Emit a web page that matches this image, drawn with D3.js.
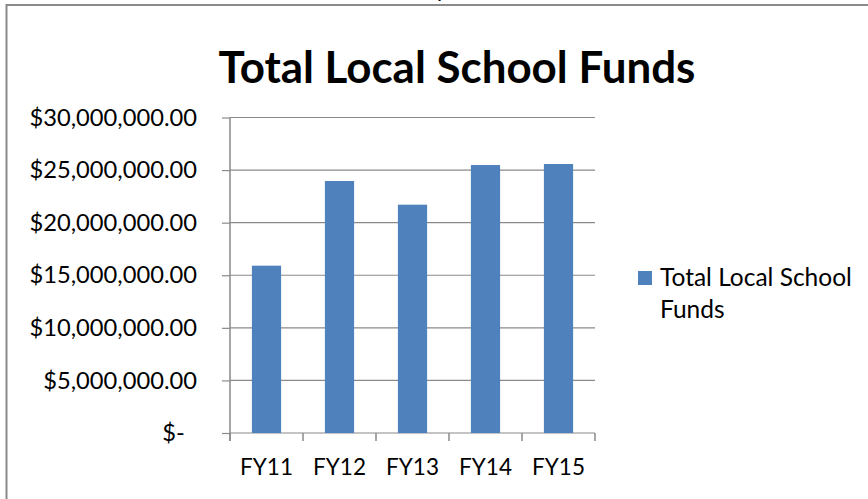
<!DOCTYPE html>
<html lang="en">
    <head>
        <meta charset="utf-8">
        <title>Total Local School Funds</title>
        <script type="text/javascript" src="https://cdn.jsdelivr.net/npm/d3@7"></script>
        <style>
            body { margin: 0; background: white; }
            text { font-family: Lato, "Open Sans", sans-serif; fill: #000; }
        </style>
    </head>
    <body>
        <svg width="868" height="499"></svg>
        <script type="text/javascript">
            // data
            var categories = ["FY11", "FY12", "FY13", "FY14", "FY15"];
            var funds = [15910000, 23960000, 21710000, 25480000, 25580000];
            var tickValues = [0, 5000000, 10000000, 15000000, 20000000, 25000000, 30000000];
            var tickLabels = ["$-  ", "$5,000,000.00", "$10,000,000.00", "$15,000,000.00",
                              "$20,000,000.00", "$25,000,000.00", "$30,000,000.00"];
            var seriesName = ["Total Local School", "Funds"];
            var title = "Total Local School Funds";

            var svg = d3.select("svg");
            var grey = "#8a8a8a";

            // frame of the chart (runs past the right and bottom edges)
            svg.append("rect")
                .attr("x", 6.5).attr("y", 5)
                .attr("width", 900).attr("height", 600)
                .attr("fill", "white")
                .attr("stroke", grey)
                .attr("stroke-width", 2);

            // cut-off text above the frame
            svg.append("text")
                .attr("x", 437).attr("y", -3)
                .attr("font-size", 22)
                .text("p");

            var scaleX = d3.scaleBand()
                .domain(categories)
                .range([230, 595])
                .paddingInner(0.6)
                .paddingOuter(0.3);

            var scaleY = d3.scaleLinear()
                .domain([0, 30000000])
                .range([433, 117.5]);

            // gridlines
            svg.append("g")
                .selectAll("line")
                .data(tickValues)
                .enter()
                .append("line")
                    .attr("x1", 230).attr("x2", 595)
                    .attr("y1", function (d) { return scaleY(d) })
                    .attr("y2", function (d) { return scaleY(d) })
                    .attr("stroke", grey)
                    .attr("stroke-width", 1.2);

            // y axis
            var axisY = d3.axisLeft(scaleY)
                .tickValues(tickValues)
                .tickSize(8)
                .tickPadding(25)
                .tickFormat(function (d, i) { return tickLabels[i] });

            var gY = svg.append("g")
                .attr("transform", "translate(230, 0)")
                .call(axisY);
            gY.select(".domain").remove();
            gY.selectAll("line").attr("stroke", grey).attr("stroke-width", 1.2);
            gY.selectAll("text")
                .attr("font-size", 23.7)
                .attr("font-family", "Lato")
                .style("white-space", "pre");

            // vertical axis line
            svg.append("line")
                .attr("x1", 230).attr("x2", 230)
                .attr("y1", scaleY(30000000)).attr("y2", 441)
                .attr("stroke", grey)
                .attr("stroke-width", 1.5);

            // category boundary ticks
            var step = scaleX.step();
            var bounds = categories.map(function (c) { return scaleX(c) - scaleX.paddingOuter() * step });
            bounds.push(bounds[bounds.length - 1] + step);
            svg.append("g")
                .selectAll("line")
                .data(bounds)
                .enter()
                .append("line")
                    .attr("x1", function (d) { return d })
                    .attr("x2", function (d) { return d })
                    .attr("y1", 433).attr("y2", 441)
                    .attr("stroke", grey)
                    .attr("stroke-width", 1.5);

            // bars
            svg.append("g")
                .selectAll("rect")
                .data(funds)
                .enter()
                .append("rect")
                    .attr("x", function (d, i) { return scaleX(categories[i]) })
                    .attr("y", function (d) { return scaleY(d) })
                    .attr("width", scaleX.bandwidth())
                    .attr("height", function (d) { return scaleY(0) - scaleY(d) })
                    .attr("fill", "#4f81bd");

            // x axis labels
            var axisX = d3.axisBottom(scaleX)
                .tickSize(0)
                .tickPadding(26);
            var gX = svg.append("g")
                .attr("transform", "translate(0, 433)")
                .call(axisX);
            gX.select(".domain").remove();
            gX.selectAll("text")
                .attr("font-size", 22.5)
                .attr("font-family", "Lato");

            // title
            var t = svg.append("text")
                .attr("x", 457).attr("y", 83)
                .attr("text-anchor", "middle")
                .attr("font-size", 44)
                .attr("font-weight", "bold")
                .text(title);
            var w = t.node().getComputedTextLength();
            t.attr("font-size", 44 * 477 / w);

            // legend
            svg.append("rect")
                .attr("x", 638).attr("y", 271)
                .attr("width", 14).attr("height", 14)
                .attr("fill", "#4f81bd");
            svg.append("g")
                .selectAll("text")
                .data(seriesName)
                .enter()
                .append("text")
                    .attr("x", 660)
                    .attr("y", function (d, i) { return 286 + i * 31.6 })
                    .attr("font-size", 24.5)
                    .text(function (d) { return d });
        </script>
    </body>
</html>
